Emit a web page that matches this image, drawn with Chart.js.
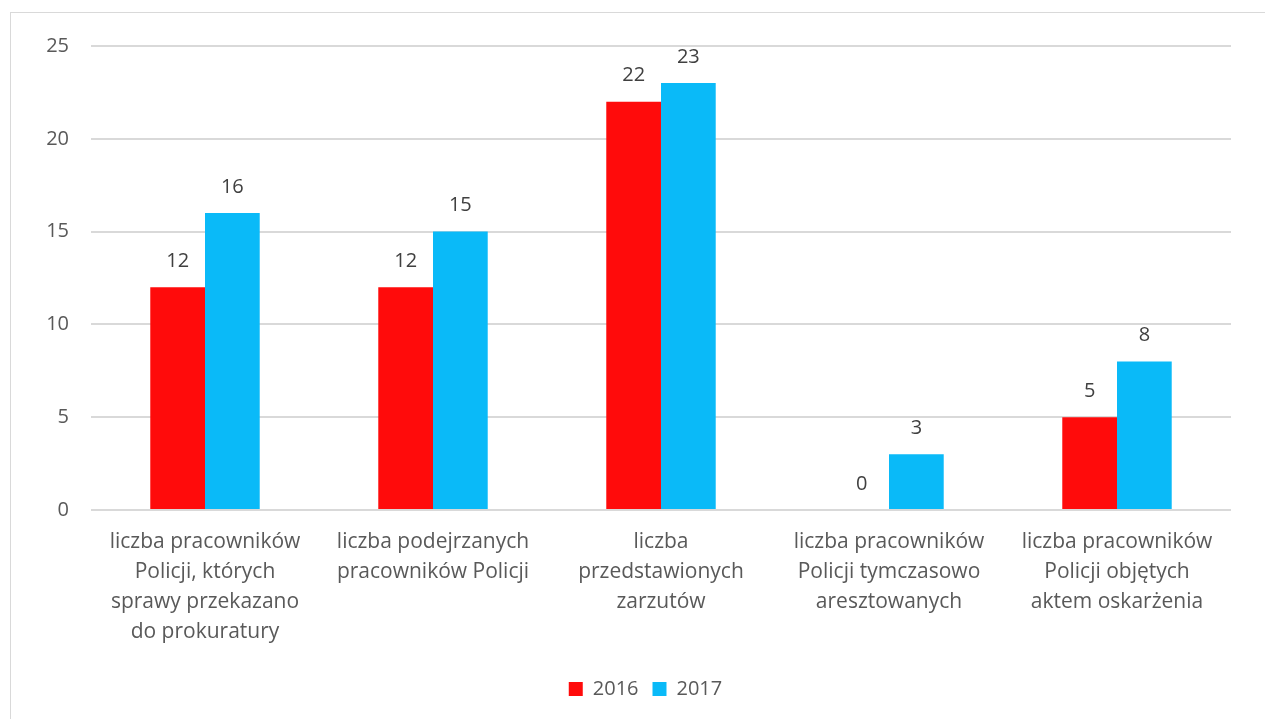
<!DOCTYPE html>
<html><head><meta charset="utf-8">
<script src="https://cdn.jsdelivr.net/npm/chart.js@4"></script>
<style>
html,body{margin:0;padding:0;background:#fff;width:1265px;height:719px;overflow:hidden}
#frame{position:absolute;left:10px;top:12px;width:1300px;height:800px;border:1px solid #d9d9d9;box-sizing:border-box}
#wrap{position:absolute;left:0;top:0;width:1265px;height:719px}
</style></head><body>
<div id="frame"></div>
<div id="wrap"><canvas id="c" width="1265" height="719"></canvas></div>
<script>
const categories = [
  ["liczba pracowników","Policji, których","sprawy przekazano","do prokuratury"],
  ["liczba podejrzanych","pracowników Policji"],
  ["liczba","przedstawionych","zarzutów"],
  ["liczba pracowników","Policji tymczasowo","aresztowanych"],
  ["liczba pracowników","Policji objętych","aktem oskarżenia"]
];
const seriesNames = ["2016","2017"];
const values2016 = [12, 12, 22, 0, 5];
const values2017 = [16, 15, 23, 3, 8];
const yTicks = [0, 5, 10, 15, 20, 25];

const FONT = "'Open Sans', sans-serif";

const valueLabels = {
  id: 'valueLabels',
  afterDatasetsDraw(chart) {
    const ctx = chart.ctx;
    ctx.save();
    ctx.font = "20px " + FONT;
    ctx.fillStyle = "#404040";
    ctx.textAlign = "center";
    ctx.textBaseline = "middle";
    chart.data.datasets.forEach((ds, i) => {
      chart.getDatasetMeta(i).data.forEach((bar, j) => {
        ctx.fillText(String(ds.data[j]), bar.x, bar.y - 26);
      });
    });
    ctx.restore();
  }
};

const legendShift = {
  id: 'legendShift',
  afterLayout(chart) {
    if (chart.legend) { chart.legend.left += 30; chart.legend.right += 30; }
  }
};

new Chart(document.getElementById('c'), {
  type: 'bar',
  data: {
    labels: categories,
    datasets: [
      { label: seriesNames[0], data: values2016, backgroundColor: '#FF0B0B', barPercentage: 1, categoryPercentage: 0.48 },
      { label: seriesNames[1], data: values2017, backgroundColor: '#0ABAF8', barPercentage: 1, categoryPercentage: 0.48 }
    ]
  },
  options: {
    responsive: false,
    animation: false,
    devicePixelRatio: 1,
    layout: { padding: { left: 0, right: 34, top: 46, bottom: 10 } },
    plugins: {
      legend: {
        position: 'bottom',
        labels: { font: { size: 20, family: FONT }, color: '#595959', boxWidth: 14, boxHeight: 14, padding: 14 }
      },
      tooltip: { enabled: false }
    },
    scales: {
      x: {
        grid: { display: false },
        border: { display: false },
        ticks: { font: { size: 21, family: FONT, lineHeight: 1.43 }, color: '#595959', maxRotation: 0, autoSkip: false, padding: 9 },
        afterFit(s) { s.height = 155; }
      },
      y: {
        min: 0, max: 25,
        afterBuildTicks(s) { s.ticks = yTicks.map(v => ({ value: v })); },
        grid: { color: '#d9d9d9', lineWidth: 2, drawTicks: false },
        border: { display: false },
        ticks: { font: { size: 20, family: FONT }, color: '#595959', padding: 22 },
        afterFit(s) { s.width = 91; }
      }
    }
  },
  plugins: [valueLabels, legendShift]
});
</script>
</body></html>
